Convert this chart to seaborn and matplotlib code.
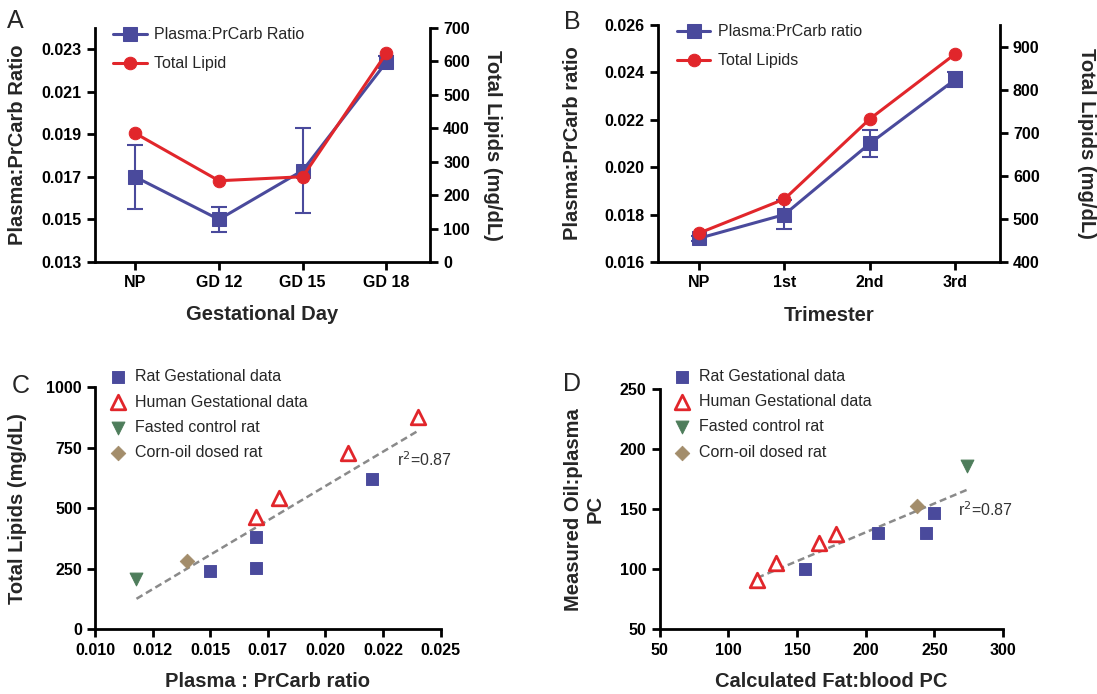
import numpy as np
import pandas as pd
import matplotlib
matplotlib.use("Agg")
import matplotlib.pyplot as plt
import seaborn as sns

# Panel A - gestational day (rat)
gd_days = ["NP", "GD 12", "GD 15", "GD 18"]
gd_ratio = [0.0170, 0.0150, 0.0173, 0.0224]
gd_ratio_err = [0.0015, 0.0006, 0.0020, 0.0003]
gd_lipid = [385, 243, 255, 625]

# Panel B - trimester (human)
trimesters = ["NP", "1st", "2nd", "3rd"]
tri_ratio = [0.0170, 0.0180, 0.0210, 0.0237]
tri_ratio_err = [0.0001, 0.0006, 0.00057, 0.0003]
tri_lipid = [467, 546, 732, 883]

# Panel C - total lipids vs plasma:PrCarb ratio
rat_ratio = [0.0150, 0.0170, 0.0170, 0.0220]
rat_lipid = [242, 383, 252, 622]
human_ratio = [0.0170, 0.0180, 0.0210, 0.0240]
human_lipid = [465, 544, 727, 879]
fasted_ratio = [0.0118]
fasted_lipid = [207]
corn_ratio = [0.0140]
corn_lipid = [281]

# Panel D - measured vs calculated PC
rat_calc = [156, 209, 244, 250]
rat_meas = [100, 130, 130, 147]
human_calc = [121, 135, 166, 178]
human_meas = [91, 105, 122, 129]
fasted_calc = [274]
fasted_meas = [186]
corn_calc = [237]
corn_meas = [153]

c_xticks = [0.010, 0.0125, 0.015, 0.0175, 0.020, 0.0225, 0.025]
c_xticklabels = ["0.010", "0.012", "0.015", "0.017", "0.020", "0.022", "0.025"]
group_names = ["Rat Gestational data", "Human Gestational data",
               "Fasted control rat", "Corn-oil dosed rat"]

PURPLE = "#4a4a9c"
RED = "#e1262b"
GREEN = "#4e7d5b"
TAN = "#a38d6b"
GRAY = "#8a8a8a"

sns.set_style("ticks")
plt.rcParams["font.family"] = ["Liberation Sans", "DejaVu Sans"]
plt.rcParams["axes.linewidth"] = 2.0
plt.rcParams["axes.edgecolor"] = "black"

fig = plt.figure(figsize=(10.97, 6.94), dpi=100)


def style_axis(ax, right=False):
    ax.tick_params(axis="both", length=6, width=2, labelsize=11.5, colors="black")
    for lab in ax.get_xticklabels() + ax.get_yticklabels():
        lab.set_fontweight("bold")
    ax.spines["top"].set_visible(False)
    ax.spines["right"].set_visible(right)


def line_panel(rect, cats, ratio, err, lipid, ylim_l, yticks_l, ylim_r, yticks_r,
               xlabel, ylabel_l, labels, letter, letter_xy):
    ax = fig.add_axes(rect)
    ax2 = ax.twinx()
    sns.lineplot(x=cats, y=ratio, ax=ax, color=PURPLE, lw=2.2, marker="s",
                 markersize=10, markeredgecolor=PURPLE, sort=False, label=labels[0],
                 legend=False)
    ax.errorbar(cats, ratio, yerr=err, fmt="none", ecolor=PURPLE, elinewidth=1.5,
                capsize=5.5, capthick=1.5)
    sns.lineplot(x=cats, y=lipid, ax=ax2, color=RED, lw=2.2, marker="o",
                 markersize=9, markeredgecolor=RED, sort=False, label=labels[1],
                 legend=False)
    ax.set_xlim(-0.48, 3.52)
    ax.set_ylim(*ylim_l)
    ax.set_yticks(yticks_l)
    ax.set_yticklabels([f"{t:.3f}" for t in yticks_l])
    ax2.set_ylim(*ylim_r)
    ax2.set_yticks(yticks_r)
    ax.set_xlabel(xlabel, fontsize=14.5, fontweight="bold", va="center")
    ax.set_ylabel(ylabel_l, fontsize=14.5, fontweight="bold", va="center")
    ax2.set_ylabel("Total Lipids (mg/dL)", fontsize=14.5, fontweight="bold",
                   rotation=270, va="center")
    style_axis(ax)
    style_axis(ax2, right=True)
    ax2.spines["left"].set_visible(False)
    ax2.spines["bottom"].set_visible(False)
    h1, l1 = ax.get_legend_handles_labels()
    h2, l2 = ax2.get_legend_handles_labels()
    ax2.legend(h1 + h2, l1 + l2, loc="upper left", bbox_to_anchor=(0.055, 1.003),
               frameon=False, fontsize=11.5, handlelength=2.1, handletextpad=0.45,
               labelspacing=0.87, borderpad=0, borderaxespad=0)
    fig.text(letter_xy[0], letter_xy[1], letter, fontsize=18, ha="center", va="center")
    return ax, ax2


# A
axA, axA2 = line_panel([0.0866, 0.6225, 0.3054, 0.3372], gd_days, gd_ratio,
                       gd_ratio_err, gd_lipid, (0.013, 0.024),
                       [0.013, 0.015, 0.017, 0.019, 0.021, 0.023],
                       (0, 700), [0, 100, 200, 300, 400, 500, 600, 700],
                       "Gestational Day", "Plasma:PrCarb Ratio",
                       ["Plasma:PrCarb Ratio", "Total Lipid"], "A", (0.014, 0.970))
axA.yaxis.set_label_coords(-0.23, 0.5)
axA.xaxis.set_label_coords(0.5, -0.226)
axA2.yaxis.set_label_coords(1.185, 0.5)

# B
axB, axB2 = line_panel([0.5998, 0.6225, 0.3115, 0.3415], trimesters, tri_ratio,
                       tri_ratio_err, tri_lipid, (0.016, 0.026),
                       [0.016, 0.018, 0.020, 0.022, 0.024, 0.026],
                       (400, 950), [400, 500, 600, 700, 800, 900],
                       "Trimester", "Plasma:PrCarb ratio",
                       ["Plasma:PrCarb ratio", "Total Lipids"], "B", (0.522, 0.968))
axB.yaxis.set_label_coords(-0.249, 0.5)
axB.xaxis.set_label_coords(0.5, -0.224)
axB2.yaxis.set_label_coords(1.255, 0.5)


def scatter_panel(rect, xs, ys, xlim, ylim, xlabel, ylabel, r2_xy, letter, letter_xy,
                  leg_anchor):
    ax = fig.add_axes(rect)
    df = pd.DataFrame({"x": sum(xs, []), "y": sum(ys, [])})
    sns.regplot(data=df, x="x", y="y", ax=ax, scatter=False, ci=None, truncate=True,
                line_kws=dict(color=GRAY, lw=1.8, ls=(0, (2.8, 1.6))))
    sns.scatterplot(x=xs[0], y=ys[0], ax=ax, marker="s", s=70, color=PURPLE,
                    edgecolor=PURPLE, label=group_names[0], zorder=3)
    sns.scatterplot(x=xs[1], y=ys[1], ax=ax, marker="^", s=110, color="white",
                    edgecolor=RED, linewidth=2, label=group_names[1], zorder=3)
    sns.scatterplot(x=xs[2], y=ys[2], ax=ax, marker="v", s=85, color=GREEN,
                    edgecolor=GREEN, label=group_names[2], zorder=3)
    sns.scatterplot(x=xs[3], y=ys[3], ax=ax, marker="D", s=55, color=TAN,
                    edgecolor=TAN, label=group_names[3], zorder=3)
    ax.set_xlim(*xlim)
    ax.set_ylim(*ylim)
    ax.set_xlabel(xlabel, fontsize=14.5, fontweight="bold", va="center")
    ax.set_ylabel(ylabel, fontsize=14.5, fontweight="bold", va="center")
    ax.text(r2_xy[0], r2_xy[1], "r$^2$=0.87", fontsize=11.5, va="center", ha="left",
            color="#333333")
    ax.legend(loc="upper left", bbox_to_anchor=leg_anchor, frameon=False,
              fontsize=11.5, handlelength=1.0, handletextpad=0.55, labelspacing=0.64,
              borderpad=0, borderaxespad=0, scatterpoints=1)
    fig.text(letter_xy[0], letter_xy[1], letter, fontsize=18, ha="center", va="center")
    return ax


# C
axC = scatter_panel([0.0866, 0.0932, 0.3151, 0.3487],
                    [rat_ratio, human_ratio, fasted_ratio, corn_ratio],
                    [rat_lipid, human_lipid, fasted_lipid, corn_lipid],
                    (0.010, 0.025), (0, 1000), "Plasma : PrCarb ratio",
                    "Total Lipids (mg/dL)", (0.0231, 700), "C", (0.019, 0.444),
                    (0.043, 1.074))
axC.set_xticks(c_xticks)
axC.set_xticklabels(c_xticklabels)
axC.set_yticks([0, 250, 500, 750, 1000])
style_axis(axC)
axC.yaxis.set_label_coords(-0.223, 0.5)
axC.xaxis.set_label_coords(0.5, -0.217)

# D
axD = scatter_panel([0.6014, 0.0932, 0.3130, 0.3463],
                    [rat_calc, human_calc, fasted_calc, corn_calc],
                    [rat_meas, human_meas, fasted_meas, corn_meas],
                    (50, 300), (50, 250), "Calculated Fat:blood PC",
                    "Measured Oil:plasma\nPC", (267, 150), "D", (0.521, 0.447),
                    (0.043, 1.083))
axD.set_xticks([50, 100, 150, 200, 250, 300])
axD.set_yticks([50, 100, 150, 200, 250])
style_axis(axD)
axD.yaxis.set_label_coords(-0.22, 0.5)
axD.xaxis.set_label_coords(0.5, -0.216)

fig.savefig("out.png", dpi=100)
